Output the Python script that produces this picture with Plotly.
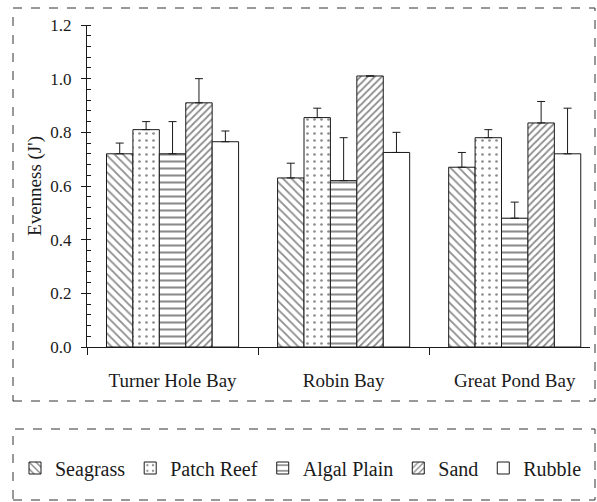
import plotly.graph_objects as go

sites = ["Turner Hole Bay", "Robin Bay", "Great Pond Bay"]
habitats = ["Seagrass", "Patch Reef", "Algal Plain", "Sand", "Rubble"]

seagrass = [0.72, 0.63, 0.67]
seagrass_err = [0.04, 0.055, 0.055]
patch_reef = [0.81, 0.855, 0.78]
patch_reef_err = [0.03, 0.035, 0.03]
algal_plain = [0.72, 0.62, 0.48]
algal_plain_err = [0.12, 0.16, 0.06]
sand = [0.91, 1.01, 0.835]
sand_err = [0.09, None, 0.08]
rubble = [0.765, 0.725, 0.72]
rubble_err = [0.04, 0.075, 0.17]

y_ticks = [0.0, 0.2, 0.4, 0.6, 0.8, 1.0, 1.2]
y_tick_labels = ["0.0", "0.2", "0.4", "0.6", "0.8", "1.0", "1.2"]

values = [seagrass, patch_reef, algal_plain, sand, rubble]
errors = [seagrass_err, patch_reef_err, algal_plain_err, sand_err, rubble_err]
patterns = [
    dict(shape="\\", size=6, solidity=0.3),
    dict(shape=".", size=7, solidity=0.12),
    dict(shape="-", size=7, solidity=0.3),
    dict(shape="/", size=5, solidity=0.35),
    dict(shape="", size=6, solidity=0.2),
]

INK = "#1a1a1a"
FONT = "Liberation Serif, Times New Roman, serif"

W, H = 597, 502
ML, MR, MT, MB = 87, 7, 25, 155
PW = W - ML - MR
PH = H - MT - MB


def px(x):
    return (x - ML) / PW


def py(y):
    return (H - MB - y) / PH


fig = go.Figure()
for name, vals, errs, pat in zip(habitats, values, errors, patterns):
    fig.add_trace(go.Bar(
        name=name,
        x=sites,
        y=vals,
        marker=dict(
            color="white",
            line=dict(color=INK, width=1),
            pattern=dict(shape=pat["shape"], size=pat["size"], solidity=pat["solidity"],
                         fgcolor=INK, bgcolor="white", fillmode="overlay"),
        ),
        error_y=dict(type="data", array=errs, arrayminus=[0] * len(errs),
                     symmetric=False, color=INK, thickness=1, width=4),
    ))

shapes = [
    dict(type="rect", xref="paper", yref="paper",
         x0=px(13), x1=px(595), y0=py(401), y1=py(8),
         line=dict(color="#333", width=1, dash="dash"), layer="below"),
    dict(type="rect", xref="paper", yref="paper",
         x0=px(13), x1=px(595), y0=py(500), y1=py(429),
         line=dict(color="#333", width=1, dash="dash"), layer="below"),
]

fig.update_layout(
    width=W, height=H,
    margin=dict(l=ML, r=MR, t=MT, b=MB, autoexpand=False),
    paper_bgcolor="white", plot_bgcolor="white",
    barmode="group", bargap=0.228, bargroupgap=0,
    font=dict(family=FONT, color=INK, size=17),
    shapes=shapes,
    legend=dict(
        orientation="h", x=px(15), y=py(468), xanchor="left", yanchor="middle",
        font=dict(family=FONT, size=20, color=INK),
        bgcolor="rgba(0,0,0,0)", traceorder="normal", itemwidth=30,
    ),
    showlegend=True,
)

fig.update_xaxes(
    type="category", range=[-0.5, 2.44], automargin=False,
    showline=True, linecolor=INK, linewidth=1,
    ticks="outside", tickson="boundaries", ticklen=7, tickcolor=INK,
    tickfont=dict(family=FONT, size=19, color=INK),
    ticklabelstandoff=16, showgrid=False, zeroline=False,
)

fig.update_yaxes(
    range=[0, 1.2], automargin=False,
    tickvals=y_ticks, ticktext=y_tick_labels,
    showline=True, linecolor=INK, linewidth=1,
    ticks="outside", ticklen=5, tickcolor=INK,
    minor=dict(dtick=0.04, ticks="inside", ticklen=4, tickcolor=INK, showgrid=False),
    tickfont=dict(family=FONT, size=17, color=INK),
    ticklabelstandoff=6,
    title=dict(text="Evenness (J')", font=dict(family=FONT, size=19, color=INK), standoff=3),
    showgrid=False, zeroline=False,
)

fig.write_html(
    "out.html",
    config={"displayModeBar": False},
    post_script="document.body.style.margin='0';document.body.style.overflow='hidden';",
)
